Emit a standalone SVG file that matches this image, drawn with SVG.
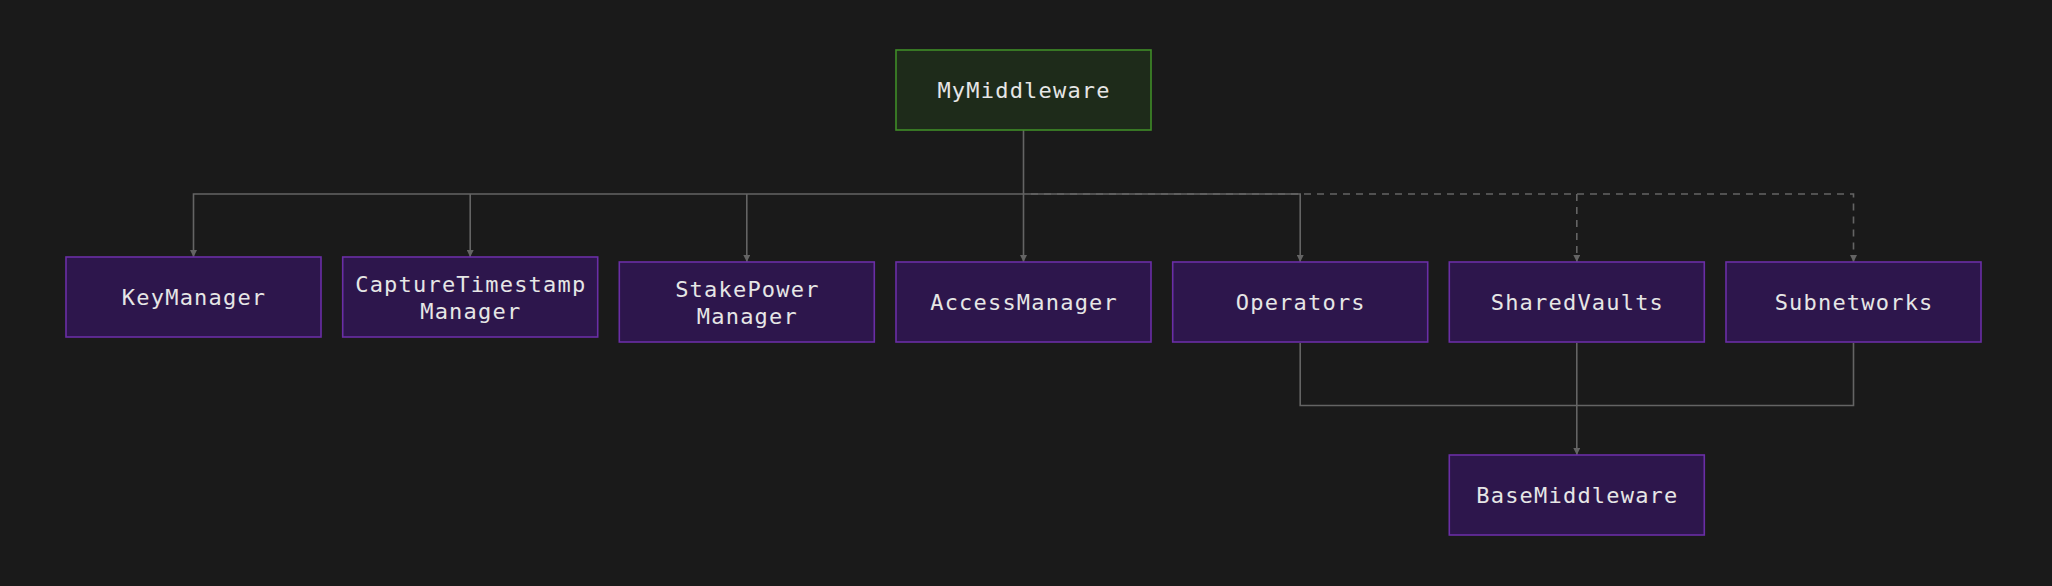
<svg xmlns="http://www.w3.org/2000/svg" width="2052" height="586" viewBox="0 0 2052 586">
<defs>
<style>
.bg{fill:#1a1a1a}
.n rect{fill:#2d164c;stroke:#6a2ea6;stroke-width:1.6}
.root rect{fill:#1e2b1a;stroke:#3f8d27;stroke-width:1.6}
text{font-family:"DejaVu Sans Mono","Liberation Mono",monospace;font-size:22px;fill:#e6e6e6;text-anchor:middle;letter-spacing:1.2px}
.c path{fill:none;stroke:#646464;stroke-width:1.6}
.c path.d{stroke-dasharray:7 6}
</style>
<marker id="ah" viewBox="0 0 10 10" refX="10" refY="5" markerWidth="7" markerHeight="7" markerUnits="userSpaceOnUse" orient="auto">
<path d="M0,0 L10,5 L0,10 z" fill="#646464"/>
</marker>
</defs>
<rect class="bg" x="0" y="0" width="2052" height="586"/>
<g class="c" id="connectors">
<path class="d" d="M1031,194 H1853.5 V262" marker-end="url(#ah)"/>
<path class="d" d="M1576.8,194 V262" marker-end="url(#ah)"/>
<path d="M1023.5,130 V262" marker-end="url(#ah)"/>
<path d="M1023.5,194 H193.5 V257" marker-end="url(#ah)"/>
<path d="M470.2,194 V257" marker-end="url(#ah)"/>
<path d="M746.8,194 V262" marker-end="url(#ah)"/>
<path d="M1023.5,194 H1300.2 V262" marker-end="url(#ah)"/>
<path d="M1300.2,343 V405.5 H1853.5 V343"/>
<path d="M1576.8,343 V455" marker-end="url(#ah)"/>
</g>
<g id="MyMiddleware" class="root"><rect x="896" y="50" width="255" height="80"/><text x="1024.1" y="98">MyMiddleware</text></g>
<g id="KeyManager" class="n"><rect x="66" y="257" width="255" height="80"/><text x="194.1" y="305">KeyManager</text></g>
<g id="CaptureTimestampManager" class="n"><rect x="342.7" y="257" width="255" height="80"/><text x="470.8" y="291.7">CaptureTimestamp</text><text x="470.8" y="319.3">Manager</text></g>
<g id="StakePowerManager" class="n"><rect x="619.3" y="262" width="255" height="80"/><text x="747.4" y="296.7">StakePower</text><text x="747.4" y="324.3">Manager</text></g>
<g id="AccessManager" class="n"><rect x="896" y="262" width="255" height="80"/><text x="1024.1" y="310">AccessManager</text></g>
<g id="Operators" class="n"><rect x="1172.7" y="262" width="255" height="80"/><text x="1300.8" y="310">Operators</text></g>
<g id="SharedVaults" class="n"><rect x="1449.3" y="262" width="255" height="80"/><text x="1577.4" y="310">SharedVaults</text></g>
<g id="Subnetworks" class="n"><rect x="1726" y="262" width="255" height="80"/><text x="1854.1" y="310">Subnetworks</text></g>
<g id="BaseMiddleware" class="n"><rect x="1449.3" y="455" width="255" height="80"/><text x="1577.4" y="503">BaseMiddleware</text></g>
</svg>
